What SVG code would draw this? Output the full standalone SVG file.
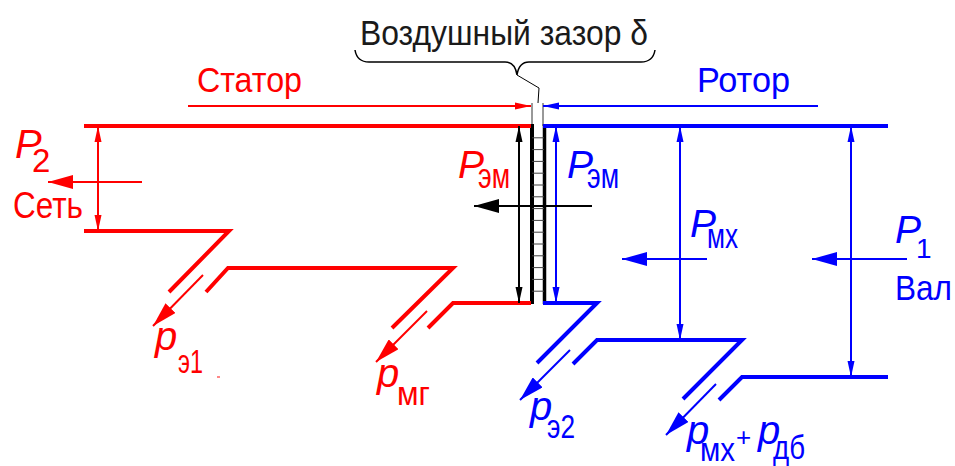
<svg xmlns="http://www.w3.org/2000/svg" width="955" height="466" viewBox="0 0 955 466">
<defs>
<style>
.t{font-family:"Liberation Sans",Arial,sans-serif}
.i{font-family:"Liberation Sans",Arial,sans-serif;font-style:italic}
.r{fill:#ff0000}.b{fill:#0000ff}.k{fill:#1a1a1a}
.thr{stroke:#ff0000;stroke-width:4;fill:none}
.thb{stroke:#0000ff;stroke-width:4;fill:none}
.ar{stroke:#ff0000;stroke-width:2;fill:none}
.ab{stroke:#0000ff;stroke-width:2;fill:none}
.ak{stroke:#000;stroke-width:2;fill:none}
</style>
<marker id="sr" markerUnits="userSpaceOnUse" markerWidth="16" markerHeight="8" refX="16" refY="4" orient="auto-start-reverse"><path d="M0,0.5 L16,4 L0,7.5z" fill="#ff0000"/></marker>
<marker id="sb" markerUnits="userSpaceOnUse" markerWidth="16" markerHeight="8" refX="16" refY="4" orient="auto-start-reverse"><path d="M0,0.5 L16,4 L0,7.5z" fill="#0000ff"/></marker>
<marker id="sk" markerUnits="userSpaceOnUse" markerWidth="16" markerHeight="8" refX="16" refY="4" orient="auto-start-reverse"><path d="M0,0.5 L16,4 L0,7.5z" fill="#000"/></marker>
<marker id="br" markerUnits="userSpaceOnUse" markerWidth="25" markerHeight="14" refX="25" refY="7" orient="auto"><path d="M0,0 L25,7 L0,14z" fill="#ff0000"/></marker>
<marker id="bb" markerUnits="userSpaceOnUse" markerWidth="25" markerHeight="14" refX="25" refY="7" orient="auto"><path d="M0,0 L25,7 L0,14z" fill="#0000ff"/></marker>
<marker id="bk" markerUnits="userSpaceOnUse" markerWidth="25" markerHeight="14" refX="25" refY="7" orient="auto"><path d="M0,0 L25,7 L0,14z" fill="#000"/></marker>
</defs>
<rect width="955" height="466" fill="#fff"/>

<g id="air-gap">
<text class="t k" x="360" y="45" font-size="35" textLength="288" lengthAdjust="spacingAndGlyphs">Воздушный зазор δ</text>
<path d="M355,50 Q357,62 369,62 H505 Q515,62 517,75 Q519,62 529,62 H641 Q653,62 655,50" fill="none" stroke="#000" stroke-width="1.5"/>
<polyline points="517,75 539,88 538,103" fill="none" stroke="#000" stroke-width="1"/>
<line x1="532" y1="103" x2="532" y2="126" stroke="#333" stroke-width="1"/>
<line x1="543" y1="103" x2="543" y2="126" stroke="#333" stroke-width="1"/>
<line x1="532" y1="124" x2="532" y2="304" stroke="#000" stroke-width="4"/>
<line x1="544.5" y1="124" x2="544.5" y2="304" stroke="#000" stroke-width="3.5"/>
<g stroke="#444" stroke-width="1">
<line x1="532" y1="137.8" x2="544" y2="137.8"/><line x1="532" y1="149.6" x2="544" y2="149.6"/><line x1="532" y1="161.4" x2="544" y2="161.4"/><line x1="532" y1="173.2" x2="544" y2="173.2"/><line x1="532" y1="185" x2="544" y2="185"/><line x1="532" y1="196.8" x2="544" y2="196.8"/><line x1="532" y1="208.6" x2="544" y2="208.6"/><line x1="532" y1="220.4" x2="544" y2="220.4"/><line x1="532" y1="232.2" x2="544" y2="232.2"/><line x1="532" y1="244" x2="544" y2="244"/><line x1="532" y1="255.8" x2="544" y2="255.8"/><line x1="532" y1="267.6" x2="544" y2="267.6"/><line x1="532" y1="279.4" x2="544" y2="279.4"/><line x1="532" y1="291.2" x2="544" y2="291.2"/>
</g>
</g>

<g id="stator">
<text class="t r" x="197" y="92" font-size="35" textLength="105" lengthAdjust="spacingAndGlyphs">Статор</text>
<path class="thr" d="M84,126 H531"/>
<path class="thr" d="M84,231 H229 L169,292"/>
<path class="thr" d="M206,292 L228,268 H453 L392,328"/>
<path class="thr" d="M428,328 L453,303 H531"/>
</g>

<g id="rotor">
<text class="t b" x="697" y="92" font-size="35" textLength="93" lengthAdjust="spacingAndGlyphs">Ротор</text>
<path class="thb" d="M543,126 H888"/>
<path class="thb" d="M543,303 H597 L537,363"/>
<path class="thb" d="M573,364 L597,340 H742 L683,399"/>
<path class="thb" d="M719,400 L742,377 H888"/>
</g>

<g id="p2">
<text class="i r" x="15" y="158" font-size="40">P</text>
<text class="t r" x="32" y="172" font-size="33">2</text>
<text class="t r" x="13" y="218" font-size="37" textLength="70" lengthAdjust="spacingAndGlyphs">Сеть</text>
</g>
<g id="pem-stator">
<text class="i r" x="458" y="178" font-size="39">P</text>
<text class="t r" x="478" y="188" font-size="35" textLength="32" lengthAdjust="spacingAndGlyphs">эм</text>
</g>
<g id="pem-rotor">
<text class="i b" x="567" y="178" font-size="39">P</text>
<text class="t b" x="587" y="188" font-size="35" textLength="32" lengthAdjust="spacingAndGlyphs">эм</text>
</g>
<g id="pmx">
<text class="i b" x="690" y="237" font-size="39">P</text>
<text class="t b" x="707" y="248" font-size="35" textLength="31" lengthAdjust="spacingAndGlyphs">мх</text>
</g>
<g id="p1">
<text class="i b" x="895" y="243" font-size="39">P</text>
<text class="t b" x="916" y="258" font-size="28">1</text>
<text class="t b" x="895" y="300" font-size="35" textLength="57" lengthAdjust="spacingAndGlyphs">Вал</text>
</g>
<g id="pe1">
<text class="i r" x="155" y="350" font-size="40">p</text>
<text class="t r" x="178" y="373" font-size="33" textLength="25" lengthAdjust="spacingAndGlyphs">э1</text>
<line x1="217" y1="377" x2="220" y2="377" stroke="#ff6060" stroke-width="1.5"/>
</g>
<g id="pmg">
<text class="i r" x="377" y="387" font-size="40">p</text>
<text class="t r" x="397" y="405" font-size="33" textLength="33" lengthAdjust="spacingAndGlyphs">мг</text>
</g>
<g id="pe2">
<text class="i b" x="530" y="420" font-size="40">p</text>
<text class="t b" x="547" y="438" font-size="33" textLength="28" lengthAdjust="spacingAndGlyphs">э2</text>
</g>
<g id="pmx-pdb">
<text class="i b" x="687" y="444" font-size="40">p</text>
<text class="t b" x="700" y="461" font-size="33" textLength="35" lengthAdjust="spacingAndGlyphs">мх</text>
<text class="t b" x="736" y="446" font-size="26">+</text>
<text class="i b" x="758" y="444" font-size="40">p</text>
<text class="t b" x="773" y="459" font-size="33" textLength="32" lengthAdjust="spacingAndGlyphs">дб</text>
</g>

<g id="connectors">
<line class="ar" x1="188" y1="106" x2="531" y2="106" marker-end="url(#sr)"/>
<line class="ab" x1="818" y1="106" x2="543" y2="106" marker-end="url(#sb)"/>
<line class="ar" x1="98" y1="126" x2="98" y2="231" marker-start="url(#sr)" marker-end="url(#sr)"/>
<line class="ak" x1="519" y1="126" x2="519" y2="303" marker-start="url(#sk)" marker-end="url(#sk)"/>
<line class="ab" x1="556" y1="126" x2="556" y2="303" marker-start="url(#sb)" marker-end="url(#sb)"/>
<line class="ab" x1="680" y1="126" x2="680" y2="340" marker-start="url(#sb)" marker-end="url(#sb)"/>
<line class="ab" x1="851" y1="126" x2="851" y2="377" marker-start="url(#sb)" marker-end="url(#sb)"/>
<line class="ar" x1="142" y1="182" x2="48" y2="182" marker-end="url(#br)"/>
<line class="ak" x1="592" y1="206" x2="474" y2="206" marker-end="url(#bk)"/>
<line class="ab" x1="707" y1="259" x2="622" y2="259" marker-end="url(#bb)"/>
<line class="ab" x1="907" y1="259" x2="812" y2="259" marker-end="url(#bb)"/>
<line class="ar" x1="203" y1="275" x2="153" y2="326" marker-end="url(#br)"/>
<line class="ar" x1="427" y1="311" x2="376" y2="362" marker-end="url(#br)"/>
<line class="ab" x1="570" y1="350" x2="520" y2="400" marker-end="url(#bb)"/>
<line class="ab" x1="716" y1="384" x2="666" y2="435" marker-end="url(#bb)"/>
</g>
</svg>
